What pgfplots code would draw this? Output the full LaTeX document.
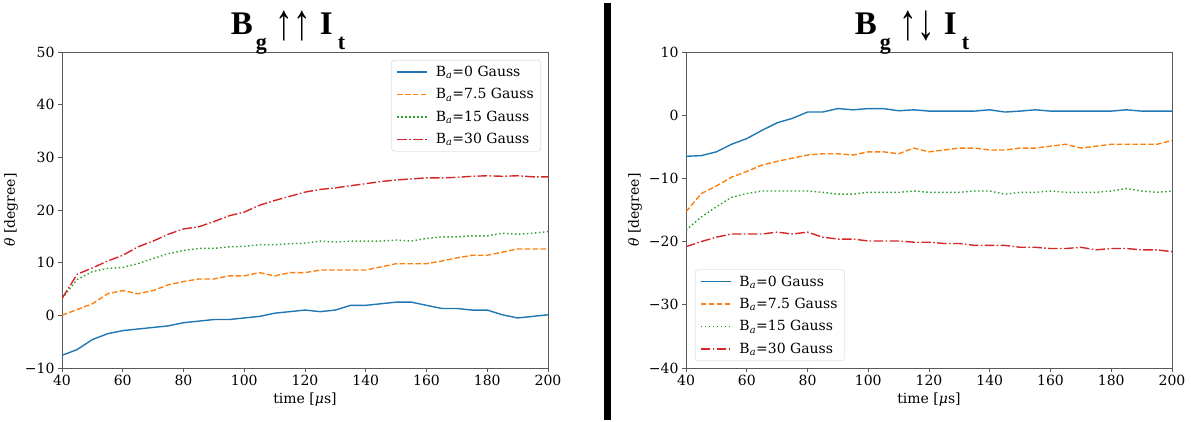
\documentclass[border=0pt]{standalone}
\usepackage{fontspec}
\setmainfont{DejaVu Serif}
\newfontfamily\titlefont{Liberation Serif}
\usepackage{pgfplots}
\pgfplotsset{compat=1.18}
\definecolor{c0}{HTML}{1F77B4}
\definecolor{c1}{HTML}{FF7F0E}
\definecolor{c2}{HTML}{2CA02C}
\definecolor{c3}{HTML}{D62728}
\pgfplotsset{
 myaxis/.style={
   scale only axis, width=486pt, height=316pt, anchor=south west,
   xmin=40, xmax=200, xtick={40,60,...,200},
   axis line style={draw=black!65},
   tick style={draw=black!65, line width=0.8pt},
   tick align=outside, major tick length=4pt,
   xtick pos=bottom, ytick pos=left,
   ticklabel style={font=\fontsize{14}{16}\selectfont},
   /pgf/number format/assume math mode=true,
   xlabel={time [\textit{μ}s]}, ylabel={\textit{θ} [degree]},
   label style={font=\fontsize{14}{16}\selectfont},
   legend cell align=left,
   legend style={font=\fontsize{14}{16}\selectfont, draw=black!20, rounded corners=3pt, fill=white, inner xsep=5pt, inner ysep=4pt, row sep=6.5pt,
     /tikz/every odd column/.append style={column sep=6pt}},
   legend image code/.code={\draw[##1, line width=1.3pt] (0pt,0pt) -- (30pt,0pt);},
   every axis plot/.append style={line width=1.4pt},
 },
 s0/.style={c0, solid},
 s1/.style={c1, dash pattern=on 5.5pt off 2.4pt},
 s2/.style={c2, dash pattern=on 1.5pt off 2.5pt},
 s3/.style={c3, dash pattern=on 9.6pt off 2.4pt on 1.5pt off 2.4pt},
}
\newcommand{\sub}[1]{\raisebox{-15pt}{\fontsize{22}{22}\selectfont #1}}
\newcommand{\arr}[1]{\raisebox{-5pt}{\scalebox{1}[1.45]{\mdseries\fontsize{35}{35}\selectfont #1}}}
\pgfplotstableread{
t a b c d
40 -7.6 0.0 3.2 3.2
45 -6.5 1.1 6.8 7.8
50 -4.6 2.2 8.3 9.0
55 -3.5 4.1 8.9 10.3
60 -2.9 4.7 9.1 11.4
65 -2.6 4.1 9.8 13.0
70 -2.3 4.7 10.8 14.1
75 -2.0 5.8 11.7 15.4
80 -1.4 6.4 12.3 16.4
85 -1.1 6.9 12.7 16.8
90 -0.8 6.9 12.7 17.8
95 -0.8 7.5 13.0 18.9
100 -0.5 7.5 13.1 19.6
105 -0.2 8.1 13.4 20.9
110 0.4 7.5 13.4 21.8
115 0.7 8.1 13.6 22.6
120 1.0 8.1 13.7 23.4
125 0.7 8.6 14.1 23.9
130 1.0 8.6 13.9 24.2
135 1.9 8.6 14.1 24.6
140 1.9 8.6 14.1 25.0
145 2.2 9.2 14.1 25.4
150 2.5 9.8 14.3 25.7
155 2.5 9.8 14.1 25.9
160 1.9 9.8 14.6 26.1
165 1.3 10.3 14.9 26.1
170 1.3 10.9 14.9 26.2
175 1.0 11.4 15.1 26.4
180 1.0 11.4 15.1 26.5
185 0.1 12.0 15.6 26.4
190 -0.5 12.6 15.4 26.5
195 -0.2 12.6 15.6 26.3
200 0.1 12.6 15.9 26.3
}\left
\pgfplotstableread{
t a b c d
40 -6.5 -15.3 -18.2 -20.8
45 -6.4 -12.4 -16.1 -20.0
50 -5.8 -11.2 -14.5 -19.3
55 -4.6 -9.8 -13.0 -18.8
60 -3.7 -8.9 -12.4 -18.8
65 -2.4 -7.9 -12.0 -18.8
70 -1.2 -7.3 -12.0 -18.5
75 -0.5 -6.8 -12.0 -18.8
80 0.5 -6.3 -12.0 -18.5
85 0.5 -6.1 -12.2 -19.3
90 1.05 -6.1 -12.5 -19.6
95 0.85 -6.3 -12.5 -19.6
100 1.05 -5.8 -12.2 -19.9
105 1.05 -5.8 -12.2 -19.9
110 0.7 -6.1 -12.2 -19.9
115 0.85 -5.2 -12.0 -20.1
120 0.65 -5.8 -12.2 -20.1
125 0.65 -5.5 -12.2 -20.3
130 0.65 -5.2 -12.2 -20.3
135 0.65 -5.2 -12.0 -20.6
140 0.85 -5.5 -12.0 -20.6
145 0.5 -5.5 -12.5 -20.6
150 0.65 -5.2 -12.2 -20.9
155 0.85 -5.2 -12.2 -20.9
160 0.65 -4.9 -12.0 -21.1
165 0.65 -4.6 -12.2 -21.1
170 0.65 -5.2 -12.2 -20.9
175 0.65 -4.9 -12.2 -21.3
180 0.65 -4.6 -12.0 -21.1
185 0.85 -4.6 -11.6 -21.1
190 0.65 -4.6 -12.0 -21.3
195 0.65 -4.6 -12.2 -21.3
200 0.65 -4.0 -12.0 -21.6
}\right
\begin{document}
\begin{tikzpicture}
\path[use as bounding box] (0,0) rectangle (1191pt,422pt);
\begin{axis}[myaxis, at={(62pt,54pt)},
  ymin=-10, ymax=50, ytick={-10,0,...,50}, yticklabels={−10,0,10,20,30,40,50},
  legend style={at={(0.9856,0.9747)}, anchor=north east}]
\addplot[s0] table[x=t,y=a] {\left}; \addlegendentry{B\textsubscript{\textit{a}}=0 Gauss}
\addplot[s1] table[x=t,y=b] {\left}; \addlegendentry{B\textsubscript{\textit{a}}=7.5 Gauss}
\addplot[s2] table[x=t,y=c] {\left}; \addlegendentry{B\textsubscript{\textit{a}}=15 Gauss}
\addplot[s3] table[x=t,y=d] {\left}; \addlegendentry{B\textsubscript{\textit{a}}=30 Gauss}
\end{axis}
\begin{axis}[myaxis, at={(686pt,54pt)},
  ymin=-40, ymax=10, ytick={-40,-30,...,10}, yticklabels={−40,−30,−20,−10,0,10},
  legend style={at={(0.0185,0.022)}, anchor=south west}]
\addplot[s0] table[x=t,y=a] {\right}; \addlegendentry{B\textsubscript{\textit{a}}=0 Gauss}
\addplot[s1] table[x=t,y=b] {\right}; \addlegendentry{B\textsubscript{\textit{a}}=7.5 Gauss}
\addplot[s2] table[x=t,y=c] {\right}; \addlegendentry{B\textsubscript{\textit{a}}=15 Gauss}
\addplot[s3] table[x=t,y=d] {\right}; \addlegendentry{B\textsubscript{\textit{a}}=30 Gauss}
\end{axis}
\fill[black] (604pt,2pt) rectangle (611pt,419pt);
\node[font=\titlefont\bfseries\fontsize{33}{36}\selectfont, anchor=base, inner sep=0pt] at (288pt,387pt)
  {B\hspace{3pt}\sub{g}\hspace{9pt}\arr{↑↑}\hspace{9pt}I\hspace{5pt}\sub{t}};
\node[font=\titlefont\bfseries\fontsize{33}{36}\selectfont, anchor=base, inner sep=0pt] at (912pt,387pt)
  {B\hspace{3pt}\sub{g}\hspace{9pt}\arr{↑↓}\hspace{9pt}I\hspace{5pt}\sub{t}};
\end{tikzpicture}
\end{document}
